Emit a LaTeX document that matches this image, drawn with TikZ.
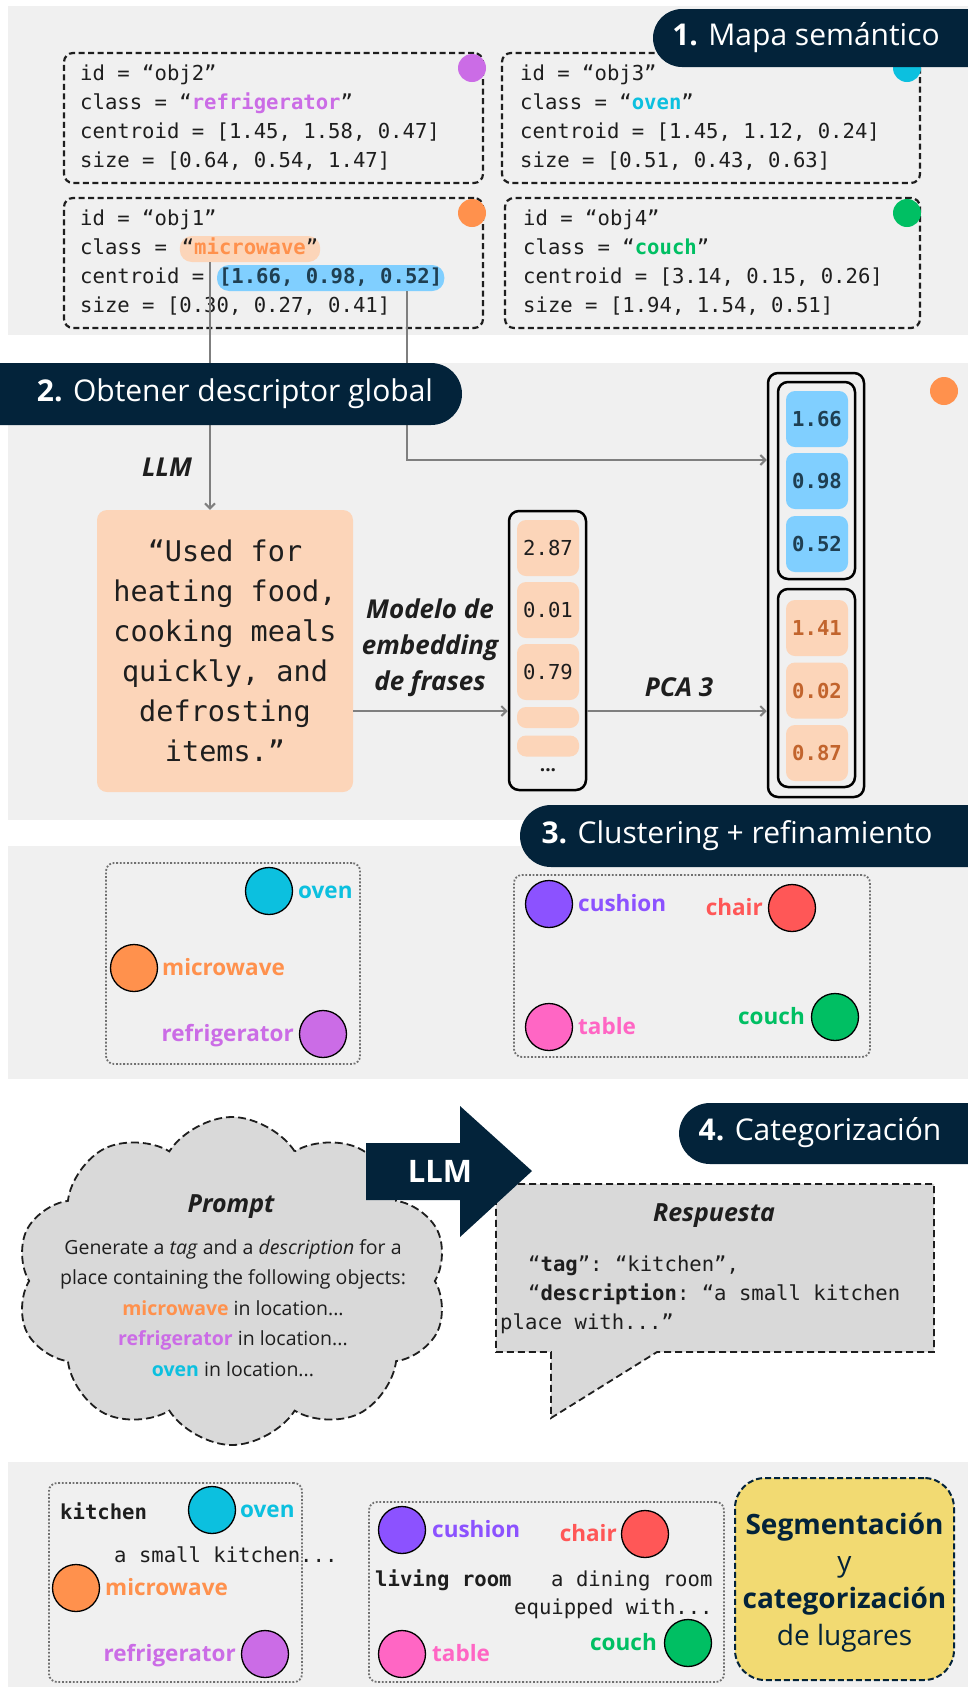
\documentclass[tikz,border=0pt]{standalone}
\usepackage{fontspec}
\setmainfont{Open Sans}
\setmonofont{DejaVu Sans Mono}
\usetikzlibrary{arrows.meta,shapes.symbols,calc}

\definecolor{navy}{HTML}{03233A}
\definecolor{panel}{HTML}{F0F0F0}
\definecolor{ink}{HTML}{1E1E1E}
\definecolor{peach}{HTML}{FCD5B9}
\definecolor{sky}{HTML}{80CFFF}
\definecolor{linegray}{HTML}{7F7F7F}
\definecolor{dotgray}{HTML}{707070}
\definecolor{cloudgray}{HTML}{D9D9D9}
\definecolor{yel}{HTML}{F2DA72}
\definecolor{numorange}{HTML}{C2642D}
\definecolor{numblue}{HTML}{1F3F52}
\definecolor{coven}{HTML}{0CC0DF}
\definecolor{cmicro}{HTML}{FF914D}
\definecolor{cfridge}{HTML}{CB6CE6}
\definecolor{ccushion}{HTML}{8C52FF}
\definecolor{cchair}{HTML}{FF5757}
\definecolor{ctable}{HTML}{FF66C4}
\definecolor{ccouch}{HTML}{00BF63}

\newcommand\monoF{\fontsize{20.6}{29}\selectfont\ttfamily}
\newcommand\hd[1]{{\bfseries #1}}

\tikzset{
  mono/.style={font=\monoF, text=ink, inner sep=0, anchor=base west},
  card/.style={draw=ink, line width=2.2, dash pattern=on 6 off 3.5, rounded corners=9},
  tagdot/.style={circle, fill=#1, minimum size=28, inner sep=0},
  ball/.style={circle, draw=black, line width=1.3, fill=#1, minimum size=47, inner sep=0},
  lbl/.style={font=\fontsize{22.5}{26}\selectfont\bfseries, text=#1, inner sep=0},
  pill/.style={fill=navy, rounded corners=29},
  pilltxt/.style={font=\fontsize{30}{34}\selectfont, text=white, inner sep=0},
  conn/.style={draw=linegray, line width=2},
  arr/.style={conn, -{Straight Barb[length=5pt,width=10pt]}},
  hlbox/.style={fill=#1, rounded corners=12, inner xsep=2, inner ysep=4, text height=14, text depth=4},
  vecbox/.style={draw=black, line width=2.5, rounded corners=10, inner sep=0},
  cell/.style={fill=#1, rounded corners=9, minimum width=62, inner sep=0},
  itlbl/.style={font=\fontsize{26}{36}\selectfont\bfseries\itshape, text=ink, inner sep=0, align=center},
  dotbox/.style={draw=dotgray, line width=1.8, dash pattern=on 1.8 off 1.8, rounded corners=8},
}

\begin{document}
\begin{tikzpicture}[x=1pt,y=-1pt]
\useasboundingbox (0,0) rectangle (968,1687);
\fill[white] (0,0) rectangle (968,1687);

% ---------- background panels ----------
\fill[panel] (8,6) rectangle (968,335);
\fill[panel] (8,363) rectangle (968,820);
\fill[panel] (8,846) rectangle (968,1079);
\fill[panel] (8,1462) rectangle (968,1687);

% ---------- 1. semantic map: object cards ----------
\node[card, minimum width=419, minimum height=130] (k2) at (273.5,118) {};
\node[card, minimum width=418, minimum height=130] (k3) at (711,118) {};
\node[card, minimum width=419, minimum height=130] (k1) at (273.5,263) {};
\node[card, minimum width=415, minimum height=130] (k4) at (712.5,263) {};

\node[tagdot=cfridge] (d2) at (472,68) {};
\node[tagdot=coven] (d3) at (907,68) {};
\node[tagdot=cmicro] (d1) at (472,213) {};
\node[tagdot=ccouch] (d4) at (907,213) {};

% obj2
\node[mono] (a1) at (80,80) {id = “obj2”};
\node[mono] (a2) at (80,109) {class = “\textcolor{cfridge}{\hd{refrigerator}}”};
\node[mono] (a3) at (80,138) {centroid = [1.45, 1.58, 0.47]};
\node[mono] (a4) at (80,167) {size = [0.64, 0.54, 1.47]};
% obj3
\node[mono] (b1) at (520,80) {id = “obj3”};
\node[mono] (b2) at (520,109) {class = “\textcolor{coven}{\hd{oven}}”};
\node[mono] (b3) at (520,138) {centroid = [1.45, 1.12, 0.24]};
\node[mono] (b4) at (520,167) {size = [0.51, 0.43, 0.63]};
% obj1
\node[mono] (c1) at (80,225) {id = “obj1”};
\node[mono] (c1a) at (80,254) {class =\phantom{x}};
\node[mono, hlbox=peach] (c1b) at (c1a.base east) {“\textcolor{cmicro}{\hd{microwave}}”};
\node[mono] (c1d) at (80,283) {centroid =\phantom{x}};
\node[mono, hlbox=sky] (c1c) at (c1d.base east) {\textcolor{numblue}{\hd{[1.66, 0.98, 0.52]}}};
\node[mono] (c1e) at (80,312) {size = [0.30, 0.27, 0.41]};
% obj4
\node[mono] (e1) at (523,225) {id = “obj4”};
\node[mono] (e2) at (523,254) {class = “\textcolor{ccouch}{\hd{couch}}”};
\node[mono] (e3) at (523,283) {centroid = [3.14, 0.15, 0.26]};
\node[mono] (e4) at (523,312) {size = [1.94, 1.54, 0.51]};

% ---------- 2. global descriptor ----------
\node[fill=peach, rounded corners=10, minimum width=256, minimum height=282, inner sep=0,
      align=center, text=ink, font=\fontsize{28.5}{40}\selectfont\ttfamily] (desc) at (225,651)
  {“Used for\\heating food,\\cooking meals\\quickly, and\\defrosting\\items.”};

% sentence embedding vector
\node[vecbox, minimum width=77, minimum height=279] (mv) at (547.5,650.5) {};
\node[cell=peach, minimum height=56, font=\monoF, text=ink] (m1) at (548,548) {2.87};
\node[cell=peach, minimum height=56, font=\monoF, text=ink] (m2) at (548,610) {0.01};
\node[cell=peach, minimum height=56, font=\monoF, text=ink] (m3) at (548,672) {0.79};
\node[cell=peach, minimum height=21] (m4) at (548,717.5) {};
\node[cell=peach, minimum height=21] (m5) at (548,746) {};
\node[font=\fontsize{19}{19}\selectfont\bfseries, text=ink, inner sep=0] (m6) at (548,770) {...};

% global descriptor vector
\node[vecbox, minimum width=96, minimum height=424] (rv) at (816,585) {};
\node[vecbox, minimum width=77, minimum height=197] (rvt) at (816.5,480.5) {};
\node[vecbox, minimum width=77, minimum height=198] (rvb) at (816.5,688) {};
\node[cell=sky, minimum height=56, font=\monoF\bfseries, text=numblue] (r1) at (817,419) {1.66};
\node[cell=sky, minimum height=56, font=\monoF\bfseries, text=numblue] (r2) at (817,481) {0.98};
\node[cell=sky, minimum height=56, font=\monoF\bfseries, text=numblue] (r3) at (817,544) {0.52};
\node[cell=peach, minimum height=56, font=\monoF\bfseries, text=numorange] (r4) at (817,628) {1.41};
\node[cell=peach, minimum height=56, font=\monoF\bfseries, text=numorange] (r5) at (817,690.5) {0.02};
\node[cell=peach, minimum height=56, font=\monoF\bfseries, text=numorange] (r6) at (817,753) {0.87};
\node[tagdot=cmicro] (d5) at (944,391) {};

% connectors
\coordinate (drop1) at (210,0);
\coordinate (drop2) at (407,0);
\coordinate (row2) at (0,460);
\coordinate (rowpca) at (0,711);
\draw[arr] (c1b.south -| drop1) -- (desc.north -| drop1);
\draw[arr] (c1c.south -| drop2) |- (rv.west |- row2);
\draw[arr] (desc.east |- rowpca) -- (mv.west |- rowpca);
\draw[arr] (mv.east |- rowpca) -- (rv.west |- rowpca);

\node[itlbl] (llm1) at (167,467) {LLM};
\node[itlbl] (emb) at (430,648) {Modelo de\\embedding\\de frases};
\node[itlbl] (pca) at (679,687) {PCA 3};

% ---------- 3. clustering ----------
\node[dotbox, minimum width=254, minimum height=201] (cl1) at (233,963.5) {};
\node[dotbox, minimum width=356, minimum height=182] (cl2) at (692,966) {};

\node[ball=coven] (o1) at (269,891) {};
\node[lbl=coven, anchor=base west] (o1l) at (298,898) {oven};
\node[ball=cmicro] (o2) at (134,968) {};
\node[lbl=cmicro, anchor=base west] (o2l) at (162,975) {microwave};
\node[ball=cfridge] (o3) at (323,1034) {};
\node[lbl=cfridge, anchor=base east] (o3l) at (294,1041) {refrigerator};

\node[ball=ccushion] (o4) at (549,904) {};
\node[lbl=ccushion, anchor=base west] (o4l) at (578,911) {cushion};
\node[ball=cchair] (o5) at (792,908) {};
\node[lbl=cchair, anchor=base east] (o5l) at (763,915) {chair};
\node[ball=ctable] (o6) at (549,1027) {};
\node[lbl=ctable, anchor=base west] (o6l) at (578,1034) {table};
\node[ball=ccouch] (o7) at (835,1017) {};
\node[lbl=ccouch, anchor=base east] (o7l) at (805,1024) {couch};

% ---------- 4. categorisation ----------
\node[cloud, cloud puffs=10, cloud puff arc=115, cloud ignores aspect, minimum width=432, minimum height=328,
      draw=ink, fill=cloudgray, line width=1.8, dash pattern=on 8 off 4] (cloud) at (232,1281) {};
\node[itlbl, font=\fontsize{25}{30}\selectfont\bfseries\itshape] (prompt) at (231,1207) {Prompt};
\node[inner sep=0, align=center, text=ink, font=\fontsize{19.5}{30.5}\selectfont] (ptext) at (233,1308)
  {Generate a \textit{tag} and a \textit{description} for a\\
   place containing the following objects:\\
   \textcolor{cmicro}{\bfseries microwave} in location...\\
   \textcolor{cfridge}{\bfseries refrigerator} in location...\\
   \textcolor{coven}{\bfseries oven} in location...};

\filldraw[fill=cloudgray, draw=ink, line width=1.8, dash pattern=on 7 off 4]
  (496,1184) -- (934,1184) -- (934,1352) -- (657,1352) -- (551,1418) -- (551,1352) -- (496,1352) -- cycle;
\node[itlbl, font=\fontsize{25}{30}\selectfont\bfseries\itshape] (resp) at (714,1216) {Respuesta};
\node[mono] (q1) at (528,1271) {“\hd{tag}”: “kitchen”,};
\node[mono] (q2) at (528,1300) {“\hd{description}: “a small kitchen};
\node[mono] (q3) at (500,1329) {place with...”};

\fill[navy] (366,1143) -- (460,1143) -- (460,1106) -- (532,1171) -- (460,1237) -- (460,1200) -- (366,1200) -- cycle;
\node[font=\fontsize{31}{34}\selectfont\bfseries, text=white, inner sep=0] (llm2) at (440,1171) {LLM};

% ---------- final: place segmentation ----------
\node[dotbox, minimum width=253, minimum height=199] (f1) at (175.5,1582.5) {};
\node[dotbox, minimum width=355, minimum height=180] (f2) at (546.5,1592) {};

\node[mono, font=\monoF\bfseries] (kt) at (60,1519) {kitchen};
\node[ball=coven] (p1) at (212,1510) {};
\node[lbl=coven, anchor=base west] (p1l) at (240,1517) {oven};
\node[mono] (kd) at (114,1562) {a small kitchen...};
\node[ball=cmicro] (p2) at (76,1588) {};
\node[lbl=cmicro, anchor=base west] (p2l) at (105,1595) {microwave};
\node[ball=cfridge] (p3) at (265,1654) {};
\node[lbl=cfridge, anchor=base east] (p3l) at (236,1661) {refrigerator};

\node[ball=ccushion] (p4) at (402,1530) {};
\node[lbl=ccushion, anchor=base west] (p4l) at (432,1537) {cushion};
\node[ball=cchair] (p5) at (645,1534) {};
\node[lbl=cchair, anchor=base east] (p5l) at (617,1541) {chair};
\node[mono, font=\monoF\bfseries] (lr) at (375,1586) {living room};
\node[mono] (ld1) at (551,1586) {a dining room};
\node[mono] (ld2) at (514,1614) {equipped with...};
\node[ball=ctable] (p6) at (402,1654) {};
\node[lbl=ctable, anchor=base west] (p6l) at (432,1661) {table};
\node[ball=ccouch] (p7) at (688,1643) {};
\node[lbl=ccouch, anchor=base east] (p7l) at (657,1650) {couch};

\node[draw=navy, fill=yel, line width=2, dash pattern=on 6 off 3, rounded corners=30,
      minimum width=219, minimum height=202, inner sep=0] (seg) at (844.5,1579) {};
\node[inner sep=0, align=center, text=navy, font=\fontsize{28}{37}\selectfont] (segtxt) at (844.5,1583)
  {\textbf{Segmentación}\\y\\\textbf{categorización}\\de lugares};

% ---------- section titles ----------
\fill[pill] (653,9) rectangle (1010,67);
\node[pilltxt] (t1) at (806,38) {\textbf{1.} Mapa semántico};
\fill[pill, rounded corners=31] (-40,363) rectangle (462,425);
\node[pilltxt] (t2) at (235,394) {\textbf{2.} Obtener descriptor global};
\fill[pill, rounded corners=31] (520,805) rectangle (1010,867);
\node[pilltxt] (t3) at (737,836) {\textbf{3.} Clustering + refinamiento};
\fill[pill, rounded corners=31] (679,1103) rectangle (1010,1164);
\node[pilltxt] (t4) at (820,1133) {\textbf{4.} Categorización};
\end{tikzpicture}
\end{document}
